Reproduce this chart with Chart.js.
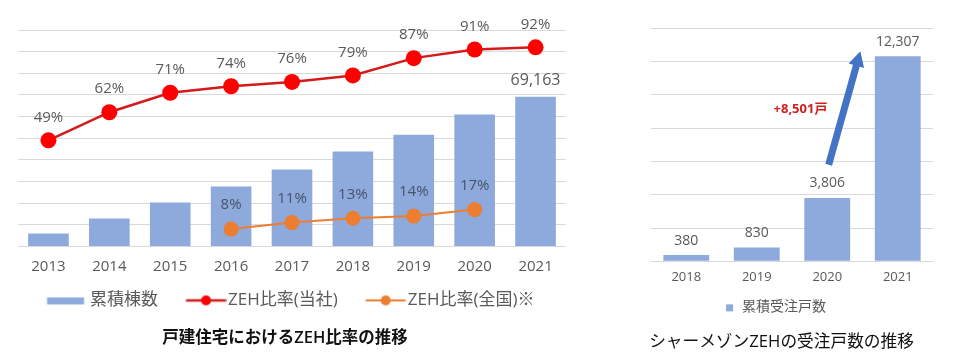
<!DOCTYPE html>
<html><head><meta charset="utf-8">
<script src="https://cdn.jsdelivr.net/npm/chart.js@4"></script>
<style>
html,body{margin:0;padding:0;background:#fff;width:966px;height:357px;overflow:hidden}
#c1{position:absolute;left:0;top:0}
#c2{position:absolute;left:630px;top:0}
</style></head><body>
<canvas id="c1" width="574" height="357"></canvas>
<canvas id="c2" width="309" height="357"></canvas>
<script>
// ---- Left chart data ----
const years = ['2013','2014','2015','2016','2017','2018','2019','2020','2021'];
const cumulativeHomes = [6000, 12900, 20300, 27700, 35500, 43800, 51600, 60900, 69163];
const ratioCompany = [49, 62, 71, 74, 76, 79, 87, 91, 92];
const ratioNational = [null, null, null, 8, 11, 13, 14, 17, null];
const leftSeriesNames = ['累積棟数', 'ZEH比率(当社)', 'ZEH比率(全国)※'];
const leftTitle = '戸建住宅におけるZEH比率の推移';

// ---- Right chart data ----
const orderYears = ['2018','2019','2020','2021'];
const cumulativeOrders = [380, 830, 3806, 12307];
const rightSeriesName = '累積受注戸数';
const rightTitle = 'シャーメゾンZEHの受注戸数の推移';
const unitSuffix = '戸';

const BAR = '#8EA9DB', RED = '#FF0000', RED_LINE = '#D41A1A', ORANGE = '#ED7D31', GRID = '#D9D9D9', TXT = '#595959';
const FAM = "'Open Sans','Noto Sans CJK JP',sans-serif";
Chart.defaults.font.family = FAM;
Chart.defaults.color = TXT;

// legend swatches (box width 46, image drawn centred, offset 7)
function swBar(){const c=document.createElement('canvas');c.width=60;c.height=10;const g=c.getContext('2d');g.fillStyle=BAR;g.fillRect(7+11.5,2,37,7);return c;}
function swLine(lineCol,dotCol,r,lw){const c=document.createElement('canvas');c.width=60;c.height=16;const g=c.getContext('2d');g.strokeStyle=lineCol;g.lineWidth=lw;g.beginPath();g.moveTo(7+12.5,8);g.lineTo(7+52.5,8);g.stroke();g.fillStyle=dotCol;g.beginPath();g.arc(7+32.5,8,r,0,Math.PI*2);g.fill();return c;}
function swSq(){const c=document.createElement('canvas');c.width=12;c.height=10;const g=c.getContext('2d');g.fillStyle=BAR;g.fillRect(3,2,7,7);return c;}

const fmt = v => v.toLocaleString('en-US');

const labels1 = {
  id:'labels1',
  afterDatasetsDraw(chart){
    const ctx = chart.ctx; ctx.save();
    ctx.textAlign='center'; ctx.textBaseline='middle';
    const mb = chart.getDatasetMeta(0); const last = mb.data.length-1;
    ctx.fillStyle = TXT; ctx.font = "16px "+FAM;
    ctx.fillText(fmt(cumulativeHomes[last]), mb.data[last].x, mb.data[last].y-16);
    ctx.font = "15px "+FAM;
    chart.getDatasetMeta(1).data.forEach((p,i)=>{ if(ratioCompany[i]!=null) ctx.fillText(ratioCompany[i]+'%', p.x, p.y-23); });
    ctx.fillStyle = '#44546A';
    chart.getDatasetMeta(2).data.forEach((p,i)=>{ if(ratioNational[i]!=null) ctx.fillText(ratioNational[i]+'%', p.x, p.y-24); });
    ctx.restore();
  }
};

new Chart(document.getElementById('c1'), {
  data: {
    labels: years,
    datasets: [
      {type:'bar', label:leftSeriesNames[0], data:cumulativeHomes, backgroundColor:BAR, yAxisID:'y', order:3, categoryPercentage:1, barPercentage:0.667},
      {type:'line', label:leftSeriesNames[1], data:ratioCompany, borderColor:RED_LINE, backgroundColor:RED, borderWidth:2.5, pointRadius:8, pointBorderWidth:0, pointBackgroundColor:RED, yAxisID:'y1', order:1, clip:false},
      {type:'line', label:leftSeriesNames[2], data:ratioNational, borderColor:ORANGE, backgroundColor:ORANGE, borderWidth:2, pointRadius:7.5, pointBorderWidth:0, pointBackgroundColor:ORANGE, yAxisID:'y1', order:2, clip:false}
    ]
  },
  options: {
    responsive:false, animation:false,
    layout:{padding:{left:0, right:4, top:30, bottom:4.3}},
    scales:{
      x:{grid:{display:false, drawTicks:true, tickLength:10}, border:{display:false}, ticks:{padding:1, color:TXT, font:{size:15}}},
      y:{min:0, max:100000, afterFit:s=>{s.width=18;}, ticks:{display:false, stepSize:10000}, grid:{color:GRID, drawTicks:false, lineWidth:1}, border:{display:false}},
      y1:{display:false, min:0, max:100}
    },
    plugins:{
      tooltip:{enabled:false},
      legend:{position:'bottom', labels:{usePointStyle:true, pointStyleWidth:46, padding:15.5, color:TXT, font:{size:17},
        generateLabels:()=>[
          {text:leftSeriesNames[0], pointStyle:swBar(), fillStyle:BAR, strokeStyle:BAR, lineWidth:0, hidden:false, datasetIndex:0, fontColor:TXT},
          {text:leftSeriesNames[1], pointStyle:swLine(RED_LINE,RED,5,2.5), fillStyle:RED, strokeStyle:RED, lineWidth:0, hidden:false, datasetIndex:1, fontColor:TXT},
          {text:leftSeriesNames[2], pointStyle:swLine(ORANGE,ORANGE,5,2), fillStyle:ORANGE, strokeStyle:ORANGE, lineWidth:0, hidden:false, datasetIndex:2, fontColor:TXT}
        ]}},
      title:{display:true, position:'bottom', text:leftTitle, color:'#111', font:{size:16.5, weight:'600'}, padding:{top:9, bottom:5}}
    }
  },
  plugins:[labels1]
});

// arrow annotation anchors (category index, value)
const arrowFrom = [2.02, 5800];
const arrowTo = [2.47, 12600];
const increaseLabelAt = [1.62, 9100];

function drawArrow(ctx,x1,y1,x2,y2,sw,hl,hw,col){
  const a=Math.atan2(y2-y1,x2-x1), L=Math.hypot(x2-x1,y2-y1);
  ctx.save(); ctx.translate(x1,y1); ctx.rotate(a); ctx.fillStyle=col;
  ctx.beginPath(); ctx.moveTo(0,-sw/2); ctx.lineTo(L-hl,-sw/2); ctx.lineTo(L-hl,-hw/2); ctx.lineTo(L,0);
  ctx.lineTo(L-hl,hw/2); ctx.lineTo(L-hl,sw/2); ctx.lineTo(0,sw/2); ctx.closePath(); ctx.fill(); ctx.restore();
}

const labels2 = {
  id:'labels2',
  afterDatasetsDraw(chart){
    const ctx = chart.ctx; ctx.save();
    ctx.textAlign='center'; ctx.textBaseline='middle';
    ctx.fillStyle = TXT; ctx.font = "14px "+FAM;
    chart.getDatasetMeta(0).data.forEach((b,i)=>ctx.fillText(fmt(cumulativeOrders[i]), b.x, b.y-14.5));
    const xs = chart.scales.x, ys = chart.scales.y;
    drawArrow(ctx, xs.getPixelForValue(arrowFrom[0]), ys.getPixelForValue(arrowFrom[1]),
      xs.getPixelForValue(arrowTo[0]), ys.getPixelForValue(arrowTo[1]), 7, 15, 16, '#4472C4');
    const n = cumulativeOrders.length;
    ctx.fillStyle = '#D02020'; ctx.font = "bold 13px "+FAM;
    ctx.fillText('+'+fmt(cumulativeOrders[n-1]-cumulativeOrders[n-2])+unitSuffix,
      xs.getPixelForValue(increaseLabelAt[0]), ys.getPixelForValue(increaseLabelAt[1]));
    ctx.restore();
  }
};

new Chart(document.getElementById('c2'), {
  type:'bar',
  data:{labels:orderYears, datasets:[{label:rightSeriesName, data:cumulativeOrders, backgroundColor:BAR, categoryPercentage:1, barPercentage:0.65}]},
  options:{
    responsive:false, animation:false,
    layout:{padding:{left:0, right:6, top:28, bottom:1.8}},
    scales:{
      x:{grid:{display:false, drawTicks:true, tickLength:7}, border:{display:false}, ticks:{padding:1, color:TXT, font:{size:13}}},
      y:{min:0, max:14000, afterFit:s=>{s.width=21;}, ticks:{display:false, stepSize:2000}, grid:{color:GRID, drawTicks:false}, border:{display:false}}
    },
    plugins:{
      tooltip:{enabled:false},
      legend:{position:'bottom', labels:{usePointStyle:true, pointStyleWidth:12, padding:14.4, color:TXT, font:{size:14},
        generateLabels:()=>[{text:rightSeriesName+'\u3000', pointStyle:swSq(), fillStyle:BAR, strokeStyle:BAR, lineWidth:0, hidden:false, datasetIndex:0, fontColor:TXT}]}},
      title:{display:true, position:'bottom', text:rightTitle, color:'#111', font:{size:16.7, weight:'normal'}, padding:{top:7.8, bottom:3}}
    }
  },
  plugins:[labels2]
});
</script>
</body></html>
